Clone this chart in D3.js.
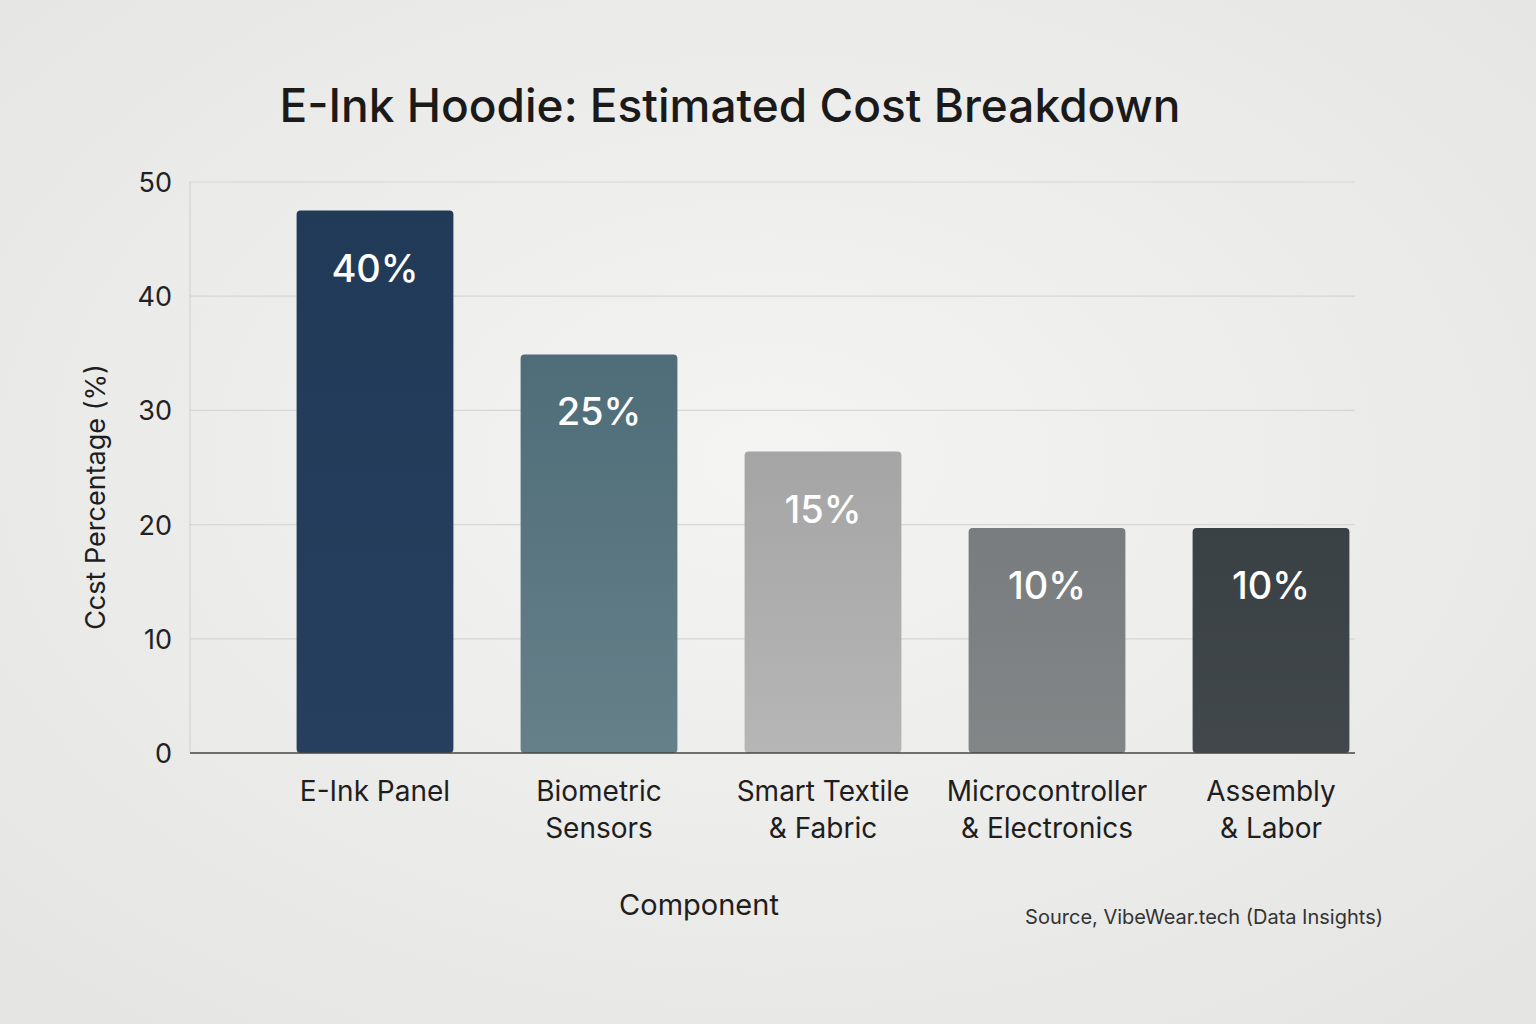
<!DOCTYPE html>
<html><head><meta charset="utf-8">
<script src="https://cdn.jsdelivr.net/npm/d3@7/dist/d3.min.js"></script>
<style>body{margin:0;background:#efefed;}svg{display:block;font-family:Inter,"Noto Sans",sans-serif;}</style>
</head><body><svg id="c" width="1536" height="1024"></svg>
<script>
const categories=[["E-Ink Panel"],["Biometric","Sensors"],["Smart Textile","& Fabric"],["Microcontroller","& Electronics"],["Assembly","& Labor"]];
const heights=[47.5,34.9,26.4,19.7,19.7];
const labels=["40%","25%","15%","10%","10%"];
const yTicks=[0,10,20,30,40,50];
const colorsTop=["#213a58","#4e6d78","#a5a5a5","#797c7e","#3a4144"];
const colorsBot=["#263f5e","#668089","#b6b6b6","#828687","#41474a"];

const svg=d3.select("#c");
const defs=svg.append("defs");
const bg=defs.append("radialGradient").attr("id","bg").attr("cx","50%").attr("cy","45%").attr("r","75%");
bg.append("stop").attr("offset","0").attr("stop-color","#f4f4f3");
bg.append("stop").attr("offset","1").attr("stop-color","#e4e4e2");
svg.append("rect").attr("width",1536).attr("height",1024).attr("fill","url(#bg)");
colorsTop.forEach((c,i)=>{const g=defs.append("linearGradient").attr("id","g"+i).attr("x1",0).attr("x2",0).attr("y1",0).attr("y2",1);
g.append("stop").attr("offset",0).attr("stop-color",c);g.append("stop").attr("offset",1).attr("stop-color",colorsBot[i]);});

const y=d3.scaleLinear().domain([0,50]).range([753,182]);
const x=d3.scaleBand().domain(d3.range(categories.length)).range([263,1383]).paddingInner(0.3).paddingOuter(0.15);
const L=190,R=1355;
svg.append("g").selectAll("line").data(yTicks.slice(1)).join("line")
 .attr("x1",L).attr("x2",R).attr("y1",d=>y(d)).attr("y2",d=>y(d)).attr("stroke","#d6d6d4").attr("stroke-width",1.2);
svg.append("line").attr("x1",L).attr("x2",L).attr("y1",y(50)).attr("y2",y(0)).attr("stroke","#cfcfcd");
svg.append("g").selectAll("text").data(yTicks).join("text")
 .attr("x",172).attr("y",d=>y(d)+10).attr("text-anchor","end").attr("font-size",27).attr("fill","#222").text(d=>d);
svg.append("g").selectAll("rect").data(heights).join("rect")
 .attr("x",(d,i)=>x(i)).attr("width",x.bandwidth()).attr("y",d=>y(d)).attr("height",d=>y(0)-y(d))
 .attr("rx",4).attr("fill",(d,i)=>`url(#g${i})`);
svg.append("line").attr("x1",L).attr("x2",R).attr("y1",y(0)).attr("y2",y(0)).attr("stroke","#444").attr("stroke-width",1.5);
svg.append("g").selectAll("text").data(labels).join("text")
 .attr("x",(d,i)=>x(i)+x.bandwidth()/2).attr("y",(d,i)=>y(heights[i])+71).attr("text-anchor","middle")
 .attr("font-size",38).attr("font-weight",500).attr("fill","#fff").text(d=>d);
const cat=svg.append("g").selectAll("text").data(categories).join("text")
 .attr("text-anchor","middle").attr("font-size",28).attr("fill","#1e1e1e");
cat.each(function(d,i){d3.select(this).selectAll("tspan").data(d).join("tspan")
 .attr("x",x(i)+x.bandwidth()/2).attr("y",(t,j)=>801+j*37).text(t=>t);});
svg.append("text").attr("x",730).attr("y",122).attr("text-anchor","middle").attr("font-size",46).attr("font-weight",500).attr("fill","#1a1a1a").text("E-Ink Hoodie: Estimated Cost Breakdown");
svg.append("text").attr("x",699).attr("y",915).attr("text-anchor","middle").attr("font-size",29).attr("fill","#1e1e1e").text("Component");
svg.append("text").attr("transform","translate(105,497) rotate(-90)").attr("text-anchor","middle").attr("font-size",27).attr("fill","#1e1e1e").text("Ccst Percentage (%)");
svg.append("text").attr("x",1383).attr("y",924).attr("text-anchor","end").attr("font-size",20).attr("fill","#333").text("Source, VibeWear.tech (Data Insights)");
</script></body></html>
